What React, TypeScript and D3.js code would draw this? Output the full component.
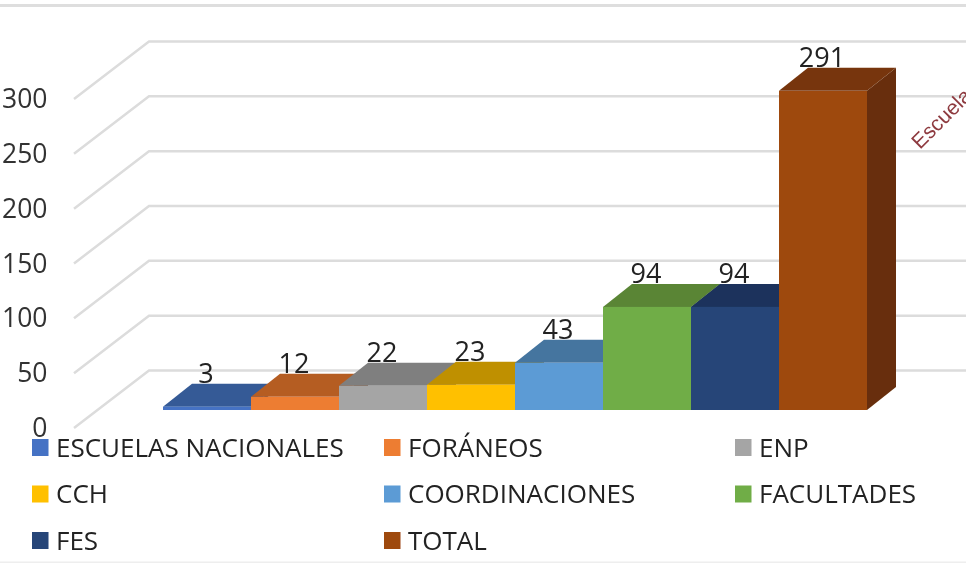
import React from "react";
import * as d3 from "d3";

const categories = ["ESCUELAS NACIONALES", "FORÁNEOS", "ENP", "CCH", "COORDINACIONES", "FACULTADES", "FES", "TOTAL"];
const values = [3, 12, 22, 23, 43, 94, 94, 291];
const frontColors = ["#4472c4", "#ed7d31", "#a5a5a5", "#ffc000", "#5b9bd5", "#70ad47", "#264478", "#9e480e"];
const topColors = ["#355a96", "#b55d23", "#7f7f7f", "#bf9000", "#44749f", "#5a8536", "#1d335c", "#77360b"];
const sideColors = ["#2a4a80", "#8f4b1d", "#666666", "#997300", "#37608a", "#43682b", "#172a4c", "#672f09"];
const yTicks = [0, 50, 100, 150, 200, 250, 300];
const legendCols = [32, 384, 735];
const legendRows = [447.5, 494, 540.5];

const W = 966, H = 563;
const font = "'Open Sans', 'Noto Sans', sans-serif";

export default function App() {
  const x = d3.scaleBand<string>().domain(categories).range([163, 867]).paddingInner(0).paddingOuter(0);
  const y = d3.scaleLinear().domain([0, 300]).range([410, 81]);
  const gridY = d3.scaleLinear().domain([0, 300]).range([370.5, 41.5]);
  const depthGrid = { dx: 75, dy: 57.5 };
  const depthBar = { dx: 29, dy: 23 };
  return (
    <svg width={W} height={H} viewBox={`0 0 ${W} ${H}`} style={{ position: "fixed", left: 0, top: 0, background: "#fff", display: "block" }}>
      <defs>
        <filter id="soft" x="-5%" y="-5%" width="110%" height="110%">
          <feGaussianBlur stdDeviation="0.45" />
        </filter>
      </defs>
      <g filter="url(#soft)">
        <rect x={0} y={4} width={W} height={3} fill="#dedede" />
        <rect x={0} y={561.5} width={W} height={1.5} fill="#eeeeee" />
        {yTicks.map((t) => {
          const yb = gridY(t);
          const path = d3.line()([[149 - depthGrid.dx, yb + depthGrid.dy], [149, yb], [W, yb]]) as string;
          return <path key={t} d={path} fill="none" stroke="#dcdcdc" strokeWidth={2.5} />;
        })}
        {yTicks.map((t) => (
          <text key={t} x={47.5} y={gridY(t) + depthGrid.dy + 9} textAnchor="end" fontFamily={font} fontSize={26.5} fill="#333">{t}</text>
        ))}
        {categories.map((c, i) => {
          const x0 = x(c) as number;
          const bw = x.bandwidth();
          const yt = y(values[i]);
          const yb = y(0);
          const { dx, dy } = depthBar;
          return (
            <g key={c}>
              <path d={`M${x0 + bw},${yt}L${x0 + bw + dx},${yt - dy}L${x0 + bw + dx},${yb - dy}L${x0 + bw},${yb}Z`} fill={sideColors[i]} />
              <path d={`M${x0},${yt}L${x0 + dx},${yt - dy}L${x0 + bw + dx},${yt - dy}L${x0 + bw},${yt}Z`} fill={topColors[i]} />
              <rect x={x0} y={yt} width={bw} height={yb - yt} fill={frontColors[i]} />
            </g>
          );
        })}
        {categories.map((c, i) => (
          <text key={c} x={(x(c) as number) + x.bandwidth() / 2 - 1} y={y(values[i]) - depthBar.dy - 0.5} textAnchor="middle" fontFamily={font} fontSize={27} fill="#222">{values[i]}</text>
        ))}
        {categories.map((c, i) => {
          const col = legendCols[i % 3];
          const row = legendRows[Math.floor(i / 3)];
          return (
            <g key={c}>
              <rect x={col} y={row - 8.5} width={16.5} height={17} fill={frontColors[i]} />
              <text x={col + 24} y={row + 9} fontFamily={font} fontSize={26} fill="#222">{c}</text>
            </g>
          );
        })}
        <text transform="translate(920,150) rotate(-45)" fontFamily="'Liberation Sans', sans-serif" fontSize={21} fill="#8e3a3f">Escuela</text>
      </g>
    </svg>
  );
}
